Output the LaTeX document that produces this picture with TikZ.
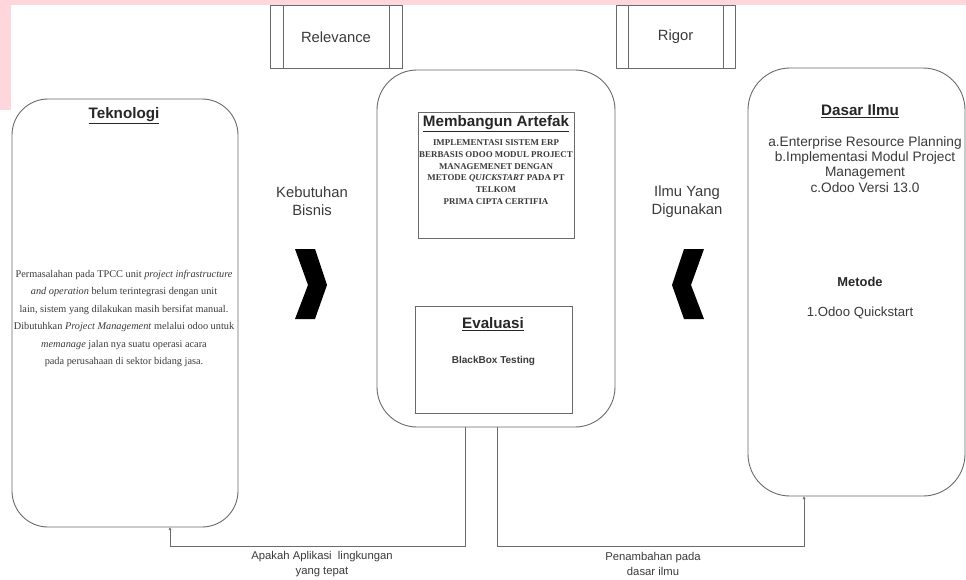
\documentclass[tikz,border=0pt]{standalone}
\usepackage{fontspec}
\setmainfont{Liberation Sans}
\newfontfamily\tnr{Liberation Serif}
\usetikzlibrary{arrows.meta}
\definecolor{pinkband}{HTML}{FFD6DB}
\definecolor{linegray}{HTML}{6A6A6A}
\definecolor{txtgray}{HTML}{3A3A3A}
\tikzset{
  rbox/.style={draw=linegray, line width=0.9pt, inner sep=0pt, anchor=center},
  pbox/.style={draw=linegray, line width=0.8pt, inner sep=0pt, anchor=center},
  ibox/.style={draw=linegray, line width=0.9pt, inner sep=0pt, anchor=center},
  lbl/.style={text=txtgray, inner sep=0pt, align=center, font=\fontsize{14.8}{18}\selectfont},
  ttl/.style={text=black!85, inner sep=0pt, align=center, font=\bfseries\fontsize{15.2}{17}\selectfont},
  conn/.style={draw=linegray, line width=0.9pt},
  chev/.style={fill=black, draw=none}
}
\begin{document}
\begin{tikzpicture}[x=1pt,y=-1pt]
\useasboundingbox (0,0) rectangle (966,579);
\clip (0,0) rectangle (966,579);
% scan band
\fill[pinkband] (0,0) rectangle (966,5);
\fill[pinkband] (0,0) rectangle (11,110);

% top boxes
\node[pbox, minimum width=132pt, minimum height=63pt] (rel) at (336,36.5) {};
\draw[linegray, line width=0.8pt] (283,5) -- (283,68) (389,5) -- (389,68);
\node[lbl] (reltxt) at (336,37) {Relevance};
\node[pbox, minimum width=119pt, minimum height=63pt] (rig) at (675.5,36.5) {};
\draw[linegray, line width=0.8pt] (628,5) -- (628,68) (723,5) -- (723,68);
\node[lbl] (rigtxt) at (675.5,37) {Rigor};

% main rounded boxes
\node[rbox, rounded corners=36pt, minimum width=226pt, minimum height=428pt] (tek) at (125,313) {};
\node[rbox, rounded corners=40pt, minimum width=238pt, minimum height=357pt] (mid) at (496,248.5) {};
\node[rbox, rounded corners=42pt, minimum width=217pt, minimum height=428pt] (dsr) at (856.5,282) {};

% Teknologi
\node[ttl] (tekttl) at (124,116) {\underline{Teknologi}};
\node[inner sep=0pt, align=center, text=txtgray, font=\tnr\fontsize{10.3}{17.4}\selectfont] (tektxt) at (124,318.5)
{Permasalahan pada TPCC unit \textit{project infrastructure}\\
\textit{and operation} belum terintegrasi dengan unit\\
lain, sistem yang dilakukan masih bersifat manual.\\
Dibutuhkan \textit{Project Management} melalui odoo untuk\\
\textit{memanage} jalan nya suatu operasi acara\\
pada perusahaan di sektor bidang jasa.};

% Membangun Artefak
\node[ibox, minimum width=156pt, minimum height=126pt] (art) at (496,175) {};
\node[ttl] (artttl) at (496,124) {\underline{Membangun Artefak}};
\node[inner sep=0pt, align=center, text=txtgray, font=\tnr\bfseries\fontsize{8.9}{11.7}\selectfont] (arttxt) at (496,172)
{IMPLEMENTASI SISTEM ERP\\
BERBASIS ODOO MODUL PROJECT\\
MANAGEMENET DENGAN\\
METODE \textit{QUICKSTART} PADA PT\\
TELKOM\\
PRIMA CIPTA CERTIFIA};

% Evaluasi
\node[ibox, minimum width=157pt, minimum height=107pt] (eva) at (493.5,360) {};
\node[ttl] (evattl) at (493,324) {\underline{Evaluasi}};
\node[inner sep=0pt, text=txtgray, font=\bfseries\fontsize{10}{12}\selectfont] (evatxt) at (493.5,361) {BlackBox Testing};

% Dasar Ilmu
\node[ttl] (dsrttl) at (860,111) {\underline{Dasar Ilmu}};
\node[lbl, font=\fontsize{13.7}{15.1}\selectfont] (dsrtxt) at (865,164.5)
{a.Enterprise Resource Planning\\
b.Implementasi Modul Project\\
Management\\
c.Odoo Versi 13.0};
\node[inner sep=0pt, text=black!85, font=\bfseries\fontsize{12.9}{14}\selectfont] (met) at (860,282) {Metode};
\node[lbl, font=\fontsize{13.2}{15}\selectfont] (mettxt) at (860,313) {1.Odoo Quickstart};

% side labels and chevrons
\node[lbl] (keb) at (312,201) {Kebutuhan\\Bisnis};
\fill[chev] (295,249) -- (315,249) -- (327,285) -- (315,319) -- (295,319) -- (308,285) -- cycle;
\node[lbl] (ilmu) at (687,201.5) {Ilmu Yang\\Digunakan};
\fill[chev] (704,249) -- (684,249) -- (672,285) -- (684,319) -- (704,319) -- (691,285) -- cycle;

% connectors
\coordinate (m1) at (465,427);
\coordinate (m2) at (497,427);
\coordinate (t1) at (170,527);
\coordinate (d1) at (804,496);
\draw[conn, -{Latex[length=3pt,width=3pt]}] (m1) -- (465,546) -- (170,546) -- (t1);
\draw[conn, -{Latex[length=3pt,width=3pt]}] (m2) -- (497,546) -- (804,546) -- (d1);

% bottom labels
\node[lbl, font=\fontsize{11.3}{15}\selectfont] (lab1) at (322,564) {Apakah Aplikasi\ \ lingkungan\\yang tepat};
\node[lbl, font=\fontsize{11.3}{15}\selectfont] (lab2) at (653,564) {Penambahan pada\\dasar ilmu};
\end{tikzpicture}
\end{document}
